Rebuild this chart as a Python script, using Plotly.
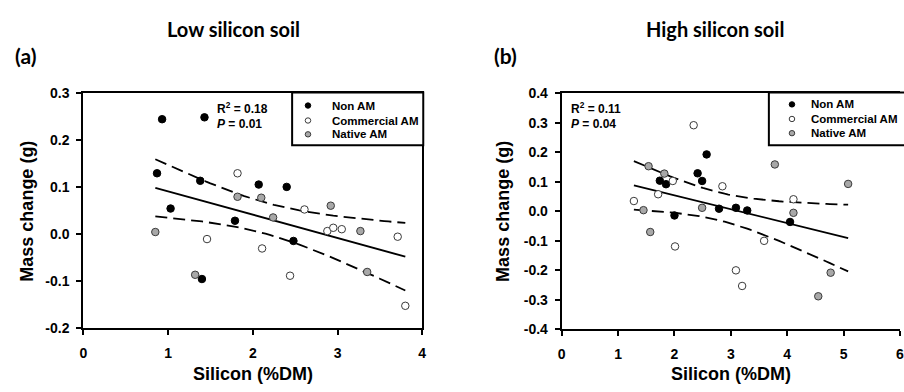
import numpy as np
import plotly.graph_objects as go

W, H = 904, 392

# ---------------- data ----------------
# Panel (a): Low silicon soil
a_non_x = [0.93, 1.43, 0.87, 1.03, 1.38, 1.79, 2.07, 2.40, 2.48, 1.40]
a_non_y = [0.245, 0.249, 0.130, 0.055, 0.114, 0.029, 0.106, 0.101, -0.014, -0.095]
a_com_x = [1.46, 1.82, 2.11, 2.61, 2.88, 2.95, 3.05, 3.71, 2.44, 3.80]
a_com_y = [-0.010, 0.130, -0.030, 0.053, 0.007, 0.014, 0.011, -0.005, -0.088, -0.152]
a_nat_x = [0.85, 1.82, 2.10, 2.24, 2.92, 3.27, 1.32, 3.35]
a_nat_y = [0.005, 0.080, 0.078, 0.036, 0.061, 0.007, -0.086, -0.080]

# Panel (b): High silicon soil
b_non_x = [1.74, 1.85, 2.00, 2.41, 2.57, 2.49, 2.79, 3.09, 3.29, 4.05]
b_non_y = [0.104, 0.092, -0.014, 0.129, 0.193, 0.103, 0.009, 0.012, 0.003, -0.036]
b_com_x = [2.34, 1.97, 1.71, 1.28, 2.01, 2.85, 3.59, 4.11, 3.09, 3.20]
b_com_y = [0.292, 0.103, 0.058, 0.035, -0.119, 0.085, -0.100, 0.041, -0.200, -0.253]
b_nat_x = [1.54, 1.82, 1.45, 1.57, 2.49, 3.78, 4.11, 5.08, 4.55, 4.77]
b_nat_y = [0.153, 0.128, 0.004, -0.070, 0.012, 0.159, -0.005, 0.093, -0.288, -0.208]

group_names = ["Non AM", "Commercial AM", "Native AM"]
panel_titles = ["Low silicon soil", "High silicon soil"]
panel_tags = ["(a)", "(b)"]
stats_r2 = ["0.18", "0.11"]
stats_p = ["0.01", "0.04"]
x_title = "Silicon (%DM)"
y_title = "Mass change (g)"
a_xticks = [0, 1, 2, 3, 4]
a_yticks = [-0.2, -0.1, 0.0, 0.1, 0.2, 0.3]
b_xticks = [0, 1, 2, 3, 4, 5, 6]
b_yticks = [-0.4, -0.3, -0.2, -0.1, 0.0, 0.1, 0.2, 0.3, 0.4]

# ---------------- helpers ----------------
def px(x):
    return x / W

def py(y):
    return 1 - y / H

def ytext(vals):
    return [("%.1f" % v) for v in vals]  # hyphen-minus like the reference

T95 = {26: 2.056, 27: 2.052, 28: 2.048}

def fit_band(xs, ys):
    x = np.array(xs, float)
    y = np.array(ys, float)
    n = len(x)
    b, a = np.polyfit(x, y, 1)
    res = y - (a + b * x)
    s = np.sqrt(np.sum(res ** 2) / (n - 2))
    sxx = np.sum((x - x.mean()) ** 2)
    g = np.linspace(x.min(), x.max(), 60)
    yh = a + b * g
    se = s * np.sqrt(1.0 / n + (g - x.mean()) ** 2 / sxx)
    t = T95.get(n - 2, 2.05)
    return g, yh, yh - t * se, yh + t * se

BOLD = "Liberation Sans, Arial, sans-serif"
TITLEF = "Lato, Open Sans, sans-serif"

fills = ["#000000", "#ffffff", "#a8a8a8"]
edges = ["#000000", "#3a3a3a", "#3a3a3a"]

fig = go.Figure()

panels = [
    ([(a_non_x, a_non_y), (a_com_x, a_com_y), (a_nat_x, a_nat_y)], "x", "y"),
    ([(b_non_x, b_non_y), (b_com_x, b_com_y), (b_nat_x, b_nat_y)], "x2", "y2"),
]

for groups, xa, ya in panels:
    allx = sum([list(g[0]) for g in groups], [])
    ally = sum([list(g[1]) for g in groups], [])
    gx, yh, lo, hi = fit_band(allx, ally)
    for yy, dash in [(hi, "12px,6px"), (lo, "12px,6px"), (yh, "solid")]:
        fig.add_trace(go.Scatter(x=gx, y=yy, mode="lines", xaxis=xa, yaxis=ya,
                                 line=dict(color="#000000", width=1.8, dash=dash),
                                 showlegend=False, hoverinfo="skip"))
    for (gxs, gys), name, fc, ec in zip(groups, group_names, fills, edges):
        fig.add_trace(go.Scatter(x=gxs, y=gys, mode="markers", name=name,
                                 xaxis=xa, yaxis=ya, showlegend=False,
                                 marker=dict(size=7.5, symbol="circle", color=fc,
                                             line=dict(color=ec, width=1))))

axis_common = dict(showgrid=False, zeroline=False, showline=True, linecolor="#000000",
                   linewidth=2, ticks="outside", ticklen=5, tickwidth=1.5, tickcolor="#000000",
                   ticklabeloverflow="allow",
                   tickfont=dict(family=BOLD, size=14, color="#000000", weight="bold"))

xa_dom = [px(80), px(422)]
ya_dom = [py(334), py(89)]
xb_dom = [px(562.7), 1.0]
yb_dom = [py(335), py(89)]

fig.update_layout(
    width=W, height=H, margin=dict(l=0, r=0, t=0, b=0),
    plot_bgcolor="#ffffff", paper_bgcolor="#ffffff", showlegend=False,
    xaxis=dict(domain=xa_dom, range=[0, 4], tickvals=a_xticks, anchor="y", mirror=True,
               ticklabelstandoff=6, **axis_common),
    yaxis=dict(domain=ya_dom, range=[-0.2, 0.3], tickvals=a_yticks, ticktext=ytext(a_yticks),
               anchor="x", mirror=True, ticklabelstandoff=4, **axis_common),
    xaxis2=dict(domain=xb_dom, range=[0, 6], tickvals=b_xticks, anchor="y2", mirror=True,
                ticklabelstandoff=6, **axis_common),
    yaxis2=dict(domain=yb_dom, range=[-0.4, 0.4], tickvals=b_yticks, ticktext=ytext(b_yticks),
                anchor="x2", mirror=False, ticklabelstandoff=4, **axis_common),
)

ann = []
shapes = []

def A(x, y, text, size, family=BOLD, xanchor="left", **kw):
    ann.append(dict(x=px(x), y=py(y), xref="paper", yref="paper", text=text, showarrow=False,
                    xanchor=xanchor, yanchor="middle",
                    font=dict(family=family, size=size, color="#000000", weight="bold"), **kw))

for cx, title in zip([232, 717], panel_titles):
    A(cx, 22, title, 20, TITLEF, "center")
for lx, tag in zip([9, 492], panel_tags):
    A(lx, 50, tag, 21, TITLEF)
for lx, r2, p in zip([213, 570], stats_r2, stats_p):
    A(lx, 104, "R<sup>2</sup> = " + r2, 12)
    A(lx, 121, "<i>P</i> = " + p, 12)
for cx in [251, 733]:
    A(cx, 382, x_title, 18, BOLD, "center")
for cx, cy in [(23, 211.5), (504, 212)]:
    A(cx, cy, y_title, 18, BOLD, "center", textangle=-90)

# legend boxes (drawn as annotations + shapes)
legend_geo = [
    dict(box=(290.7, 88, 423, 143), mx=306.7, tx=328.5, rows=[101.7, 117.3, 131.7]),
    dict(box=(771.7, 88, 910, 143), mx=795, tx=812, rows=[100.5, 115.7, 130.5]),
]
for lgd in legend_geo:
    x0, y0, x1, y1 = lgd["box"]
    shapes.append(dict(type="rect", xref="paper", yref="paper", x0=px(x0), x1=px(x1),
                       y0=py(y1), y1=py(y0), line=dict(color="#000000", width=2),
                       fillcolor="#ffffff", layer="above"))
    r = 2.8
    for name, fc, ec, ry in zip(group_names, fills, edges, lgd["rows"]):
        shapes.append(dict(type="circle", xref="paper", yref="paper",
                           x0=px(lgd["mx"] - r), x1=px(lgd["mx"] + r),
                           y0=py(ry + r), y1=py(ry - r), fillcolor=fc,
                           line=dict(color=ec, width=1), layer="above"))
        A(lgd["tx"], ry, name, 11.5)

fig.update_layout(annotations=ann, shapes=shapes)

fig.write_html("out.html")
